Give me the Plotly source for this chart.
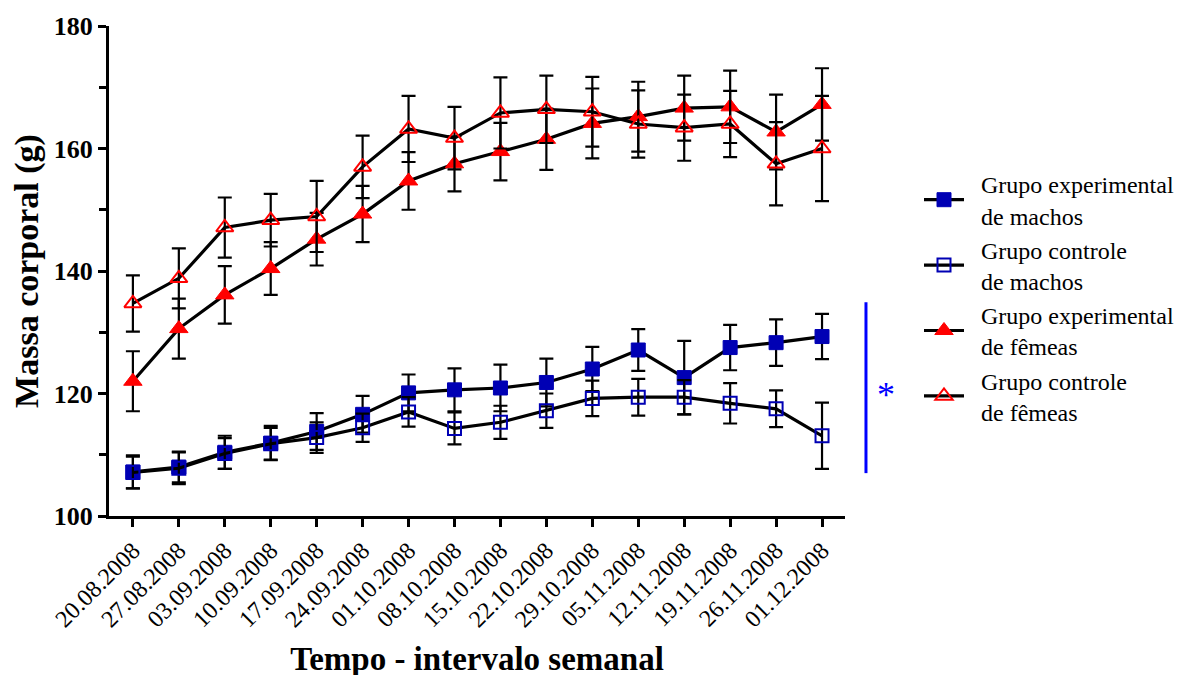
import plotly.graph_objects as go

dates = ["20.08.2008", "27.08.2008", "03.09.2008", "10.09.2008", "17.09.2008",
         "24.09.2008", "01.10.2008", "08.10.2008", "15.10.2008", "22.10.2008",
         "29.10.2008", "05.11.2008", "12.11.2008", "19.11.2008", "26.11.2008",
         "01.12.2008"]

exp_machos = [107.2, 108.0, 110.4, 111.9, 113.8, 116.6, 120.1, 120.6, 120.9, 121.8,
              124.0, 127.1, 122.6, 127.5, 128.3, 129.3]
exp_machos_err = [2.7, 2.5, 2.7, 2.8, 3.0, 3.0, 3.0, 3.5, 3.8, 3.9,
                  3.6, 3.4, 6.0, 3.7, 3.8, 3.7]

ctl_machos = [107.1, 107.8, 110.2, 111.8, 112.8, 114.4, 117.0, 114.3, 115.3, 117.2,
              119.2, 119.4, 119.4, 118.4, 117.5, 113.1]
ctl_machos_err = [2.6, 2.6, 2.5, 2.6, 2.5, 2.3, 2.4, 2.6, 2.7, 2.8,
                  2.9, 3.0, 2.8, 3.3, 3.0, 5.4]

exp_femeas = [122.0, 130.6, 136.1, 140.4, 145.2, 149.3, 154.7, 157.5, 159.5, 161.5,
              164.1, 165.2, 166.6, 166.8, 162.7, 167.2]
exp_femeas_err = [4.9, 4.9, 4.7, 4.3, 4.3, 4.6, 4.7, 4.5, 4.7, 5.0,
                  5.7, 5.7, 5.3, 5.9, 6.1, 5.9]

ctl_femeas = [134.7, 138.8, 147.1, 148.3, 148.9, 157.0, 163.2, 161.7, 165.8, 166.4,
              166.0, 164.0, 163.4, 164.0, 157.5, 160.0]
ctl_femeas_err = [4.6, 4.9, 4.9, 4.3, 5.8, 5.1, 5.4, 5.1, 5.8, 5.5,
                  5.7, 5.5, 5.4, 5.4, 6.8, 8.6]

SP = "\u00a0\u00a0"
names = [SP + "Grupo experimental<br>" + SP + "de machos",
         SP + "Grupo controle<br>" + SP + "de machos",
         SP + "Grupo experimental<br>" + SP + "de fêmeas",
         SP + "Grupo controle<br>" + SP + "de fêmeas"]

FONT = "Liberation Serif, Times New Roman, serif"
BLUE = "#0000B4"
RED = "#FF0000"

series = [
    (exp_machos, exp_machos_err, dict(symbol="square", size=14, color=BLUE,
                                      line=dict(color=BLUE, width=1))),
    (ctl_machos, ctl_machos_err, dict(symbol="square-open", size=13, color=BLUE,
                                      line=dict(color=BLUE, width=2))),
    (exp_femeas, exp_femeas_err, dict(symbol="triangle-up", size=16, color=RED,
                                      line=dict(color=RED, width=1))),
    (ctl_femeas, ctl_femeas_err, dict(symbol="triangle-up-open", size=15, color=RED,
                                      line=dict(color=RED, width=2))),
]

fig = go.Figure()
for i, (vals, errs, mk) in enumerate(series):
    fig.add_trace(go.Scatter(
        x=dates, y=vals, name=names[i], mode="lines+markers",
        legendgroup=f"g{i}",
        line=dict(color="black", width=3.2),
        marker=mk,
        error_y=dict(type="data", array=errs, visible=True, color="black",
                     thickness=2.2, width=7),
    ))

fig.add_shape(type="line", xref="paper", yref="y", x0=1.0285, x1=1.0285,
              y0=107.0, y1=134.9, line=dict(color="#0000FF", width=3))
fig.add_annotation(xref="paper", yref="y", x=(897 - 109) / 736, y=119.8,
                   text="*", showarrow=False,
                   font=dict(family=FONT, size=36, color="#0000FF"))

fig.update_layout(
    width=1189, height=675,
    margin=dict(l=101, r=352, t=18, b=167, autoexpand=False),
    paper_bgcolor="white", plot_bgcolor="white",
    font=dict(family=FONT, color="black"),
    showlegend=True,
    legend=dict(xref="container", yref="container",
                x=911 / 1189, y=1 - 154 / 675, xanchor="left", yanchor="top",
                font=dict(family=FONT, size=24, color="black"),
                tracegroupgap=0, itemwidth=40, bgcolor="rgba(0,0,0,0)"),
    xaxis=dict(
        type="category", range=[-0.52, 15.5],
        showline=True, linecolor="black", linewidth=3,
        ticks="outside", ticklen=8, tickwidth=3, tickcolor="black",
        tickangle=-45, tickfont=dict(family=FONT, size=24, color="black"),
        showgrid=False, zeroline=False,
        title=dict(text="Tempo - intervalo semanal",
                   font=dict(family=FONT, size=33, color="black", weight="bold"),
                   standoff=16),
    ),
    yaxis=dict(
        range=[100, 180], tickvals=[100, 120, 140, 160, 180],
        showline=True, linecolor="black", linewidth=3,
        ticks="outside", ticklen=8, tickwidth=3, tickcolor="black",
        tickfont=dict(family=FONT, size=26, color="black", weight="bold"),
        minor=dict(tickvals=[110, 130, 150, 170], ticks="outside", ticklen=7,
                   tickwidth=3, tickcolor="black", showgrid=False),
        showgrid=False, zeroline=False,
        title=dict(text="Massa corporal (g)",
                   font=dict(family=FONT, size=34, color="black", weight="bold"),
                   standoff=8),
    ),
)

fig.write_html("out.html")
